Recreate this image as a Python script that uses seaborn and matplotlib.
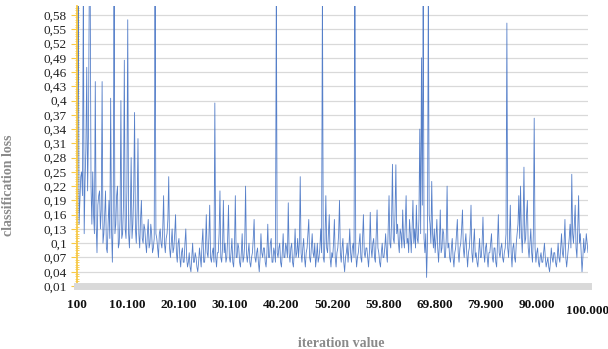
import numpy as np
import pandas as pd
import matplotlib
matplotlib.use("Agg")
import matplotlib.pyplot as plt
import matplotlib.transforms as mtransforms
import seaborn as sns

# valores (perda de classificacao ao longo das iteracoes)
perda = [
    0.22, 0.28, 0.65, 0.14, 0.19, 0.24, 0.25, 0.20, 0.65, 0.12, 0.23, 0.30, 0.47, 0.21, 0.33, 0.65, 0.65, 0.22, 0.14, 0.25,
    0.16, 0.12, 0.44, 0.14, 0.08, 0.18, 0.20, 0.21, 0.13, 0.17, 0.44, 0.10, 0.12, 0.16, 0.21, 0.09, 0.08, 0.14, 0.19, 0.11,
    0.405, 0.13, 0.06, 0.17, 0.65, 0.12, 0.14, 0.20, 0.22, 0.09, 0.10, 0.15, 0.40, 0.11, 0.12, 0.18, 0.485, 0.13, 0.11, 0.21,
    0.57, 0.12, 0.09, 0.16, 0.28, 0.11, 0.14, 0.21, 0.375, 0.13, 0.10, 0.17, 0.32, 0.12, 0.09, 0.15, 0.19, 0.11, 0.10, 0.14,
    0.13, 0.10, 0.08, 0.12, 0.15, 0.09, 0.10, 0.14, 0.12, 0.08, 0.09, 0.11, 0.65, 0.12, 0.11, 0.09, 0.07, 0.12, 0.13, 0.10,
    0.09, 0.13, 0.20, 0.10, 0.08, 0.11, 0.12, 0.15, 0.24, 0.09, 0.07, 0.10, 0.13, 0.08, 0.09, 0.12, 0.16, 0.08, 0.06, 0.10,
    0.11, 0.07, 0.05, 0.08, 0.09, 0.06, 0.06, 0.10, 0.13, 0.07, 0.05, 0.06, 0.08, 0.05, 0.04, 0.07, 0.10, 0.06, 0.06, 0.08,
    0.07, 0.05, 0.04, 0.06, 0.09, 0.07, 0.05, 0.10, 0.13, 0.06, 0.06, 0.09, 0.16, 0.08, 0.07, 0.11, 0.18, 0.07, 0.06, 0.08,
    0.09, 0.06, 0.395, 0.07, 0.05, 0.08, 0.08, 0.12, 0.21, 0.07, 0.06, 0.09, 0.19, 0.08, 0.10, 0.06, 0.07, 0.11, 0.18, 0.07,
    0.06, 0.08, 0.11, 0.06, 0.05, 0.09, 0.20, 0.07, 0.07, 0.10, 0.09, 0.06, 0.05, 0.08, 0.12, 0.06, 0.07, 0.10, 0.22, 0.08,
    0.06, 0.08, 0.10, 0.06, 0.05, 0.07, 0.08, 0.11, 0.15, 0.07, 0.06, 0.08, 0.09, 0.06, 0.04, 0.07, 0.12, 0.08, 0.07, 0.09,
    0.09, 0.06, 0.05, 0.08, 0.14, 0.07, 0.07, 0.10, 0.11, 0.06, 0.06, 0.09, 0.08, 0.06, 0.65, 0.08, 0.07, 0.09, 0.10, 0.06,
    0.05, 0.08, 0.12, 0.07, 0.07, 0.10, 0.09, 0.07, 0.185, 0.08, 0.06, 0.09, 0.10, 0.06, 0.05, 0.08, 0.13, 0.07, 0.08, 0.11,
    0.07, 0.10, 0.24, 0.08, 0.06, 0.09, 0.11, 0.07, 0.05, 0.08, 0.09, 0.12, 0.15, 0.07, 0.06, 0.09, 0.12, 0.08, 0.07, 0.10,
    0.05, 0.07, 0.10, 0.06, 0.07, 0.09, 0.13, 0.08, 0.65, 0.07, 0.06, 0.11, 0.20, 0.09, 0.08, 0.12, 0.16, 0.07, 0.05, 0.08,
    0.07, 0.10, 0.15, 0.07, 0.05, 0.08, 0.09, 0.12, 0.19, 0.08, 0.06, 0.09, 0.11, 0.06, 0.04, 0.07, 0.08, 0.10, 0.06, 0.09,
    0.13, 0.08, 0.06, 0.09, 0.10, 0.07, 0.65, 0.08, 0.05, 0.07, 0.08, 0.10, 0.12, 0.07, 0.06, 0.11, 0.16, 0.08, 0.07, 0.09,
    0.09, 0.07, 0.05, 0.08, 0.165, 0.09, 0.07, 0.10, 0.11, 0.07, 0.06, 0.12, 0.17, 0.09, 0.08, 0.06, 0.05, 0.08, 0.10, 0.07,
    0.07, 0.09, 0.12, 0.08, 0.06, 0.13, 0.20, 0.10, 0.09, 0.15, 0.266, 0.11, 0.10, 0.16, 0.265, 0.12, 0.14, 0.10, 0.08, 0.13,
    0.12, 0.09, 0.17, 0.11, 0.09, 0.14, 0.20, 0.10, 0.11, 0.08, 0.15, 0.12, 0.08, 0.13, 0.19, 0.10, 0.13, 0.09, 0.18, 0.11,
    0.10, 0.15, 0.34, 0.12, 0.49, 0.18, 0.65, 0.11, 0.08, 0.12, 0.028, 0.10, 0.65, 0.16, 0.14, 0.10, 0.23, 0.12, 0.09, 0.13,
    0.08, 0.11, 0.15, 0.09, 0.06, 0.10, 0.17, 0.08, 0.09, 0.13, 0.12, 0.07, 0.07, 0.11, 0.22, 0.09, 0.10, 0.07, 0.06, 0.09,
    0.11, 0.07, 0.05, 0.08, 0.09, 0.12, 0.15, 0.08, 0.06, 0.09, 0.10, 0.13, 0.17, 0.09, 0.07, 0.10, 0.12, 0.08, 0.05, 0.08,
    0.09, 0.12, 0.18, 0.08, 0.06, 0.10, 0.13, 0.07, 0.08, 0.06, 0.05, 0.08, 0.11, 0.07, 0.07, 0.10, 0.155, 0.08, 0.06, 0.09,
    0.10, 0.07, 0.05, 0.08, 0.08, 0.10, 0.12, 0.07, 0.06, 0.09, 0.09, 0.06, 0.05, 0.10, 0.16, 0.08, 0.07, 0.09, 0.10, 0.07,
    0.06, 0.08, 0.09, 0.12, 0.563, 0.09, 0.07, 0.11, 0.18, 0.08, 0.05, 0.09, 0.10, 0.07, 0.06, 0.10, 0.12, 0.14, 0.20, 0.11,
    0.22, 0.12, 0.08, 0.14, 0.26, 0.10, 0.11, 0.16, 0.19, 0.09, 0.07, 0.10, 0.13, 0.08, 0.06, 0.12, 0.363, 0.09, 0.06, 0.08,
    0.09, 0.06, 0.05, 0.07, 0.08, 0.06, 0.06, 0.08, 0.10, 0.07, 0.05, 0.06, 0.07, 0.05, 0.04, 0.06, 0.09, 0.07, 0.06, 0.08,
    0.08, 0.06, 0.05, 0.07, 0.10, 0.07, 0.06, 0.09, 0.12, 0.08, 0.07, 0.10, 0.15, 0.07, 0.05, 0.07, 0.09, 0.11, 0.14, 0.09,
    0.245, 0.12, 0.10, 0.14, 0.18, 0.09, 0.07, 0.13, 0.20, 0.10, 0.12, 0.08, 0.04, 0.07, 0.11, 0.08, 0.09, 0.12, 0.10, 0.08,
]
rotulos_x = ["100", "10.100", "20.100", "30.100", "40.200", "50.200",
             "59.800", "69.800", "79.900", "90.000", "100.000"]
rotulos_y = [0.01, 0.04, 0.07, 0.1, 0.13, 0.16, 0.19, 0.22, 0.25, 0.28,
             0.31, 0.34, 0.37, 0.4, 0.43, 0.46, 0.49, 0.52, 0.55, 0.58]

dados = pd.DataFrame({"indice": np.arange(len(perda)), "perda": perda})

sns.set_theme(style="white")
plt.rcParams["font.family"] = ["Liberation Serif", "DejaVu Serif"]

fig = plt.figure(figsize=(6.08, 3.49), dpi=100)
ax = fig.add_axes([76.5 / 608, 1 - 286 / 349, 511.5 / 608, 280.5 / 349])

sns.lineplot(data=dados, x="indice", y="perda", ax=ax,
             color="#4472c4", linewidth=0.6, alpha=0.9)

ax.set_xlim(0, len(perda) - 1)
ax.set_ylim(0.01, 0.6)

# eixo y
ax.set_yticks(rotulos_y)
ax.set_yticklabels([f"{v:g}".replace(".", ",") for v in rotulos_y], fontsize=9.5)
ax.set_yticks(np.arange(0.01, 0.6, 0.005), minor=True)
ax.yaxis.grid(True, color="#d9d9d9", linewidth=0.9)
ax.xaxis.grid(False)
ax.tick_params(axis="y", which="major", left=True, length=4, width=0.8,
               color="#f7c948", pad=3, labelcolor="#222222")
ax.tick_params(axis="y", which="minor", left=True, length=2.5, width=0.6,
               color="#f7c948", direction="inout")

# eixo x
posicoes = np.linspace(0, len(perda) - 1, len(rotulos_x))
ax.set_xticks(posicoes)
ax.set_xticklabels(rotulos_x, fontsize=9.5, fontweight="bold")
ax.tick_params(axis="x", length=0, pad=9, labelcolor="#111111")
ultimo = ax.get_xticklabels()[-1]
ultimo.set_transform(ultimo.get_transform() +
                     mtransforms.ScaledTranslation(0, -0.07, fig.dpi_scale_trans))

for lado in ["top", "right"]:
    ax.spines[lado].set_visible(False)
ax.spines["left"].set_color("#f7c948")
ax.spines["left"].set_linewidth(1.3)
ax.spines["bottom"].set_color("#d9d9d9")
ax.spines["bottom"].set_linewidth(5)

ax.set_xlabel("iteration value", fontsize=10, fontweight="bold", color="#8a8a8a")
ax.set_ylabel("classification loss", fontsize=10, fontweight="bold", color="#8a8a8a")
ax.xaxis.set_label_coords(0.517, -0.182)
ax.yaxis.set_label_coords(-0.12, 0.36)

fig.savefig("out.png", dpi=100)
